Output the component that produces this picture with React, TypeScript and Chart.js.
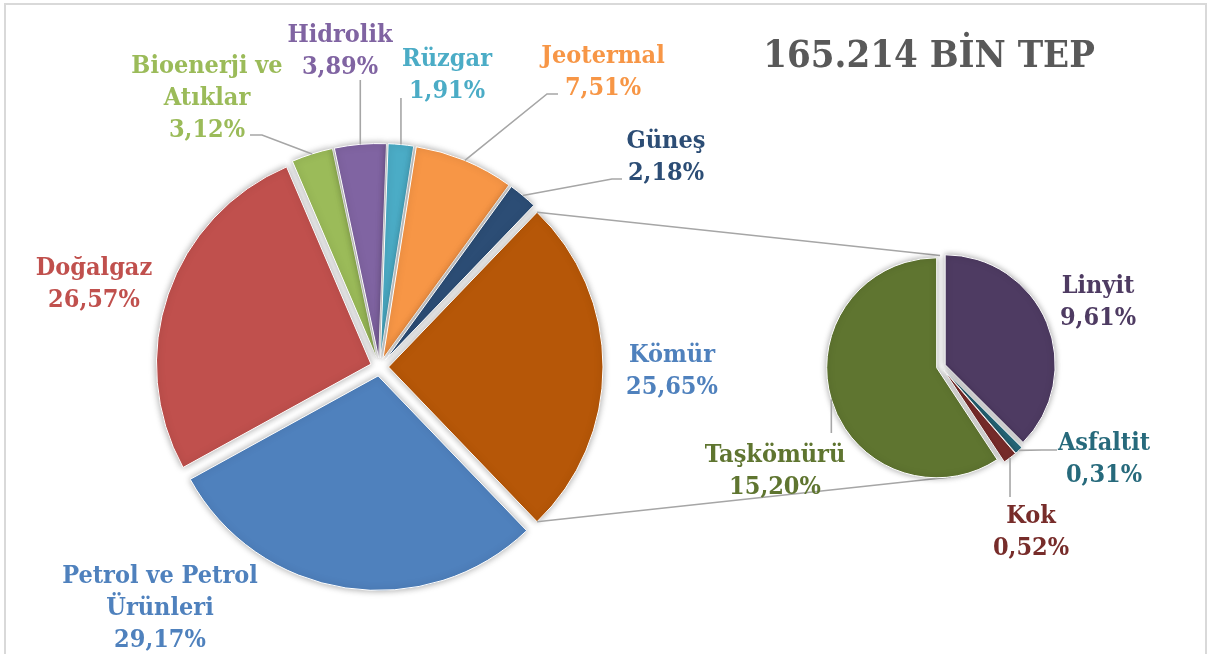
import React, { useEffect, useRef } from 'react';
import { Chart, registerables } from 'chart.js';

Chart.register(...registerables);

// ---------- DATA ----------
const TITLE = '165.214 BİN TEP';

const MAIN_LABELS: string[][] = [
  ['Kömür'],
  ['Petrol ve Petrol', 'Ürünleri'],
  ['Doğalgaz'],
  ['Bioenerji ve', 'Atıklar'],
  ['Hidrolik'],
  ['Rüzgar'],
  ['Jeotermal'],
  ['Güneş'],
];
const MAIN_VALUES = [25.65, 29.17, 26.57, 3.12, 3.89, 1.91, 7.51, 2.18];
const MAIN_COLORS = ['#B65708', '#4F81BD', '#C0504D', '#9BBB59', '#8064A2', '#4BACC6', '#F79646', '#2C4D75'];
const MAIN_TEXT_COLORS = ['#4F81BD', '#4F81BD', '#C0504D', '#9BBB59', '#8064A2', '#4BACC6', '#F79646', '#2C4D75'];

const SUB_LABELS: string[][] = [['Linyit'], ['Asfaltit'], ['Kok'], ['Taşkömürü']];
const SUB_VALUES = [9.61, 0.31, 0.52, 15.2];
const SUB_COLORS = ['#4E3B62', '#276A7C', '#772C2A', '#5F7530'];

// ---------- LAYOUT ----------
type Lay = { x: number; y: number; leader?: number[][]; vertical?: boolean };
const MAIN_LAYOUT: Lay[] = [
  { x: 672, y: 362 },
  { x: 160, y: 583 },
  { x: 94, y: 275 },
  { x: 207, y: 73, leader: [[250, 135], [262, 135]] },
  { x: 340, y: 42, leader: [[361, 80]], vertical: true },
  { x: 447, y: 66, leader: [[403, 98]], vertical: true },
  { x: 603, y: 63, leader: [[558, 94], [547, 94]] },
  { x: 666, y: 148, leader: [[622, 179], [612, 179]] },
];
const SUB_LAYOUT: Lay[] = [
  { x: 1098, y: 293 },
  { x: 1104, y: 450, leader: [[1057, 450], [1042, 450]] },
  { x: 1031, y: 523, leader: [[1015, 497]], vertical: true },
  { x: 775, y: 462, leader: [[834, 433]], vertical: true },
];

const W = 1211;
const H = 654;
const FONT_FAMILY = '"DejaVu Serif Condensed", "DejaVu Serif", serif';
const LABEL_SIZE = 25;
const LINE_H = 32;
const LEADER_COLOR = '#A6A6A6';

const fmt = (v: number) => v.toFixed(2).replace('.', ',') + '%';

function explodePlugin(amount: number) {
  return {
    id: 'explode' + amount,
    afterDatasetsUpdate(chart: any) {
      const meta = chart.getDatasetMeta(0);
      meta.data.forEach((arc: any) => {
        const mid = (arc.startAngle + arc.endAngle) / 2;
        arc.x += Math.cos(mid) * amount;
        arc.y += Math.sin(mid) * amount;
      });
    },
  };
}

function drawLabels(chart: any, labels: string[][], values: number[], colors: string[], layout: Lay[]) {
  const ctx = chart.ctx;
  const meta = chart.getDatasetMeta(0);
  ctx.save();
  ctx.strokeStyle = LEADER_COLOR;
  ctx.lineWidth = 1.6;
  layout.forEach((l, i) => {
    if (!l.leader) return;
    const arc = meta.data[i];
    const mid = (arc.startAngle + arc.endAngle) / 2;
    const ax = arc.x + Math.cos(mid) * arc.outerRadius;
    const ay = arc.y + Math.sin(mid) * arc.outerRadius;
    ctx.beginPath();
    l.leader.forEach((p, k) => {
      const px = l.vertical ? ax : p[0];
      if (k === 0) ctx.moveTo(px, p[1]);
      else ctx.lineTo(px, p[1]);
    });
    ctx.lineTo(ax, ay);
    ctx.stroke();
  });
  ctx.font = `bold ${LABEL_SIZE}px ${FONT_FAMILY}`;
  ctx.textAlign = 'center';
  ctx.textBaseline = 'alphabetic';
  layout.forEach((l, i) => {
    ctx.fillStyle = colors[i];
    const lines = [...labels[i], fmt(values[i])];
    lines.forEach((t, k) => ctx.fillText(t, l.x, l.y + k * LINE_H));
  });
  ctx.restore();
}

export default function App() {
  const mainRef = useRef<HTMLCanvasElement | null>(null);
  const subRef = useRef<HTMLCanvasElement | null>(null);

  useEffect(() => {
    const mainSum = MAIN_VALUES.reduce((a, b) => a + b, 0);
    const rotation = 90 - (MAIN_VALUES[0] / mainSum) * 180;

    const mainChart = new Chart(mainRef.current as HTMLCanvasElement, {
      type: 'pie',
      data: {
        labels: MAIN_LABELS.map((l) => l.join(' ')),
        datasets: [
          {
            data: MAIN_VALUES,
            backgroundColor: MAIN_COLORS,
            borderColor: '#ffffff',
            borderWidth: 1,
            radius: 214.5,
            rotation,
          } as any,
        ],
      },
      options: {
        responsive: false,
        animation: false,
        devicePixelRatio: 1,
        events: [],
        rotation,
        layout: { padding: { left: 160, right: W - 599, top: 150, bottom: H - 584 } },
        plugins: { legend: { display: false }, tooltip: { enabled: false } },
      } as any,
      plugins: [
        explodePlugin(9),
        {
          id: 'mainDeco',
          beforeDatasetsDraw(chart: any) {
            const ctx = chart.ctx;
            ctx.save();
            ctx.shadowColor = 'rgba(0,0,0,0.35)';
            ctx.shadowBlur = 7;
          },
          afterDatasetsDraw(chart: any) {
            chart.ctx.restore();
          },
          afterDraw(chart: any) {
            drawLabels(chart, MAIN_LABELS, MAIN_VALUES, MAIN_TEXT_COLORS, MAIN_LAYOUT);
            const ctx = chart.ctx;
            ctx.save();
            ctx.font = `bold 38px ${FONT_FAMILY}`;
            ctx.fillStyle = '#595959';
            ctx.textAlign = 'center';
            ctx.textBaseline = 'alphabetic';
            ctx.fillText(TITLE, 929, 67);
            ctx.restore();
          },
        },
      ],
    });

    const subChart = new Chart(subRef.current as HTMLCanvasElement, {
      type: 'pie',
      data: {
        labels: SUB_LABELS.map((l) => l.join(' ')),
        datasets: [
          {
            data: SUB_VALUES,
            backgroundColor: SUB_COLORS,
            borderColor: '#ffffff',
            borderWidth: 1,
            radius: 110,
            rotation: 0,
          } as any,
        ],
      },
      options: {
        responsive: false,
        animation: false,
        devicePixelRatio: 1,
        events: [],
        layout: { padding: { left: 821, right: W - 1061, top: 246, bottom: H - 487 } },
        plugins: { legend: { display: false }, tooltip: { enabled: false } },
      } as any,
      plugins: [
        explodePlugin(4.5),
        {
          id: 'subDeco',
          beforeDatasetsDraw(chart: any) {
            const ctx = chart.ctx;
            const kom: any = mainChart.getDatasetMeta(0).data[0];
            const ca = chart.chartArea;
            const cx = (ca.left + ca.right) / 2;
            const cy = (ca.top + ca.bottom) / 2;
            const r = (chart.getDatasetMeta(0).data[0] as any).outerRadius + 1;
            const a1 = (-90.5 * Math.PI) / 180;
            const a2 = (85 * Math.PI) / 180;
            ctx.save();
            ctx.strokeStyle = LEADER_COLOR;
            ctx.lineWidth = 1.6;
            ctx.beginPath();
            ctx.moveTo(kom.x + Math.cos(kom.startAngle) * kom.outerRadius, kom.y + Math.sin(kom.startAngle) * kom.outerRadius);
            ctx.lineTo(cx + Math.cos(a1) * r, cy + Math.sin(a1) * r);
            ctx.moveTo(kom.x + Math.cos(kom.endAngle) * kom.outerRadius, kom.y + Math.sin(kom.endAngle) * kom.outerRadius);
            ctx.lineTo(cx + Math.cos(a2) * r, cy + Math.sin(a2) * r);
            ctx.stroke();
            ctx.restore();
            ctx.save();
            ctx.shadowColor = 'rgba(0,0,0,0.35)';
            ctx.shadowBlur = 6;
          },
          afterDatasetsDraw(chart: any) {
            chart.ctx.restore();
          },
          afterDraw(chart: any) {
            drawLabels(chart, SUB_LABELS, SUB_VALUES, SUB_COLORS, SUB_LAYOUT);
          },
        },
      ],
    });

    return () => {
      subChart.destroy();
      mainChart.destroy();
    };
  }, []);

  return (
    <div style={{ position: 'absolute', left: 0, top: 0, width: W, height: H, overflow: 'hidden', background: '#ffffff' }}>
      <div
        style={{
          position: 'absolute',
          left: 4,
          top: 3,
          width: 1203,
          height: 700,
          border: '2px solid #D9D9D9',
          boxSizing: 'border-box',
        }}
      />
      <canvas ref={mainRef} width={W} height={H} style={{ position: 'absolute', left: 0, top: 0 }} />
      <canvas ref={subRef} width={W} height={H} style={{ position: 'absolute', left: 0, top: 0 }} />
    </div>
  );
}
